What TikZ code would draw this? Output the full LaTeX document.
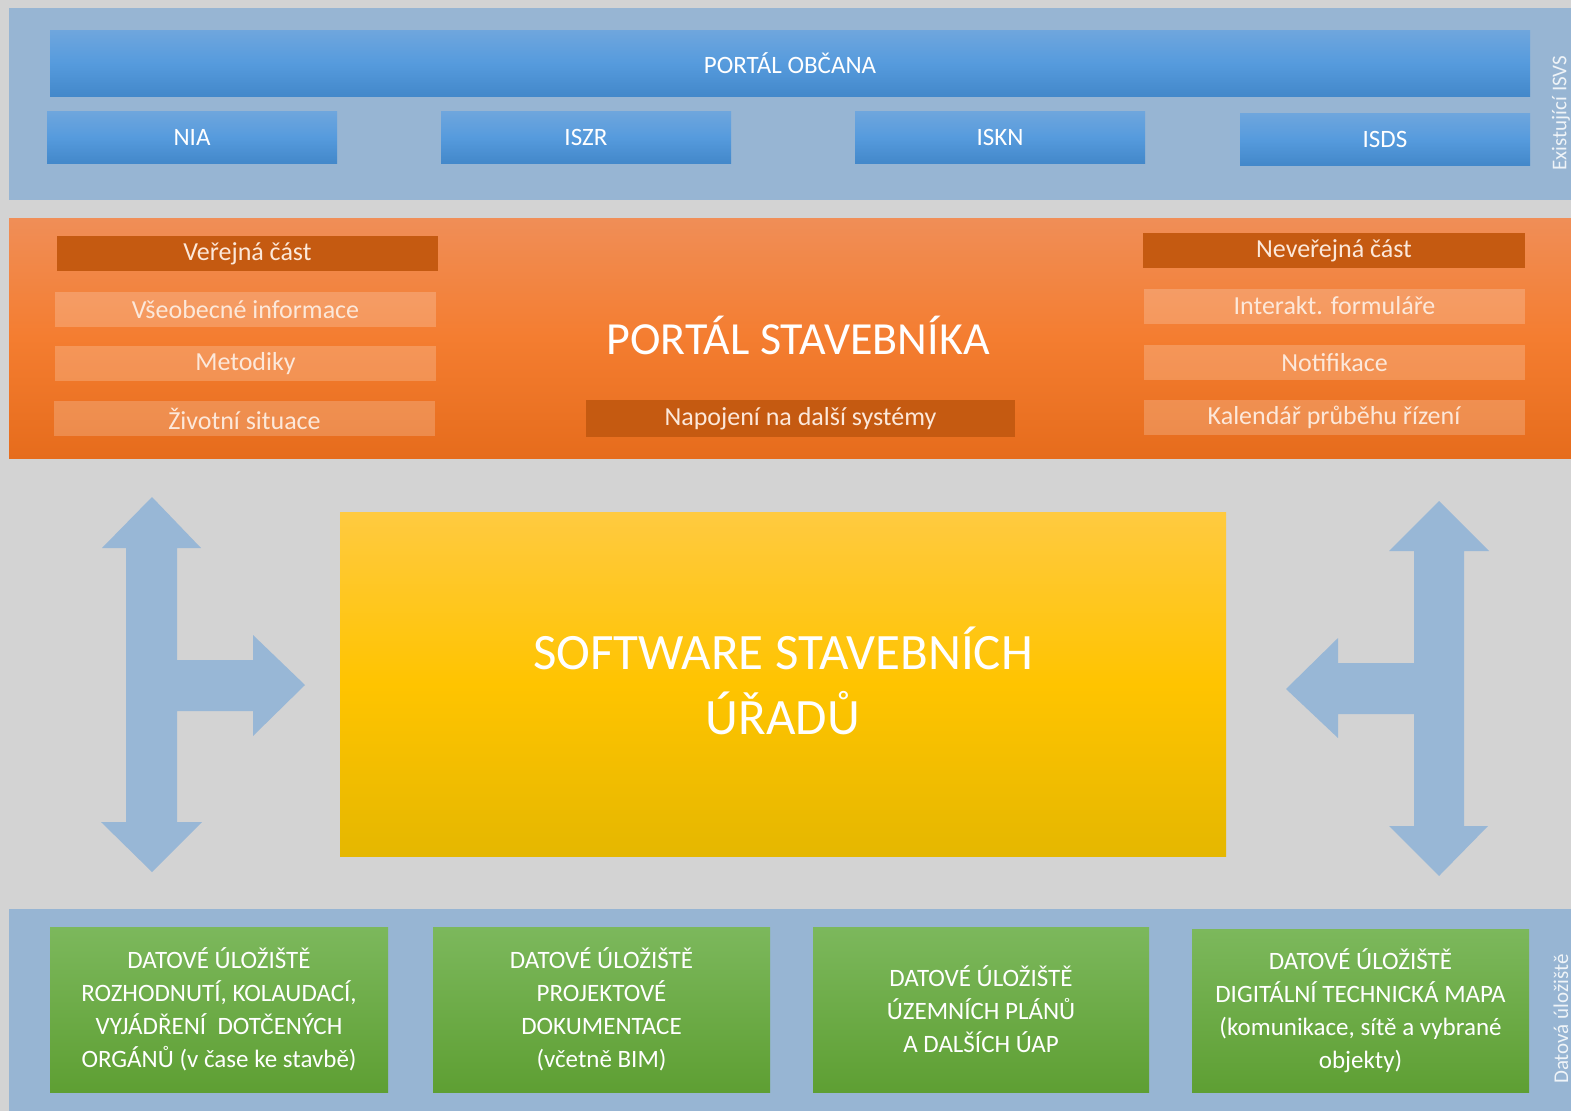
\documentclass[tikz,border=0pt]{standalone}
\usepackage{fontspec}
\setmainfont{Carlito}
\definecolor{bgray}{HTML}{D3D3D3}
\definecolor{panelblue}{HTML}{97B5D3}
\definecolor{arrowblue}{HTML}{98B7D6}
\definecolor{blueT}{HTML}{6FA6DD}
\definecolor{blueM}{HTML}{569BDD}
\definecolor{blueB}{HTML}{4388CA}
\definecolor{orT}{HTML}{F08E57}
\definecolor{orM}{HTML}{F47D30}
\definecolor{orB}{HTML}{E66C1C}
\definecolor{dkor}{HTML}{C55A11}
\definecolor{ortext}{HTML}{FCE8DA}
\definecolor{yeT}{HTML}{FFCA40}
\definecolor{yeM}{HTML}{FFC400}
\definecolor{yeB}{HTML}{E5B700}
\definecolor{grT}{HTML}{7CB85C}
\definecolor{grB}{HTML}{5E9F33}
\tikzset{
  px/.style={x=1pt,y=-1pt},
  panel/.style={fill=panelblue,draw=none,inner sep=0pt,anchor=north west},
  bluebox/.style={top color=blueT,bottom color=blueB,middle color=blueM,draw=none,inner sep=0pt,
    text=white,font=\fontsize{25}{30}\selectfont},
  darkbox/.style={fill=dkor,draw=none,inner sep=0pt,text=ortext,font=\fontsize{26}{30}\selectfont,
    minimum height=35pt},
  lightbox/.style={fill=white,fill opacity=0.2,text opacity=1,draw=none,inner sep=0pt,text=ortext,
    font=\fontsize{26}{30}\selectfont,minimum width=381pt,minimum height=35pt},
  greenbox/.style={top color=grT,bottom color=grB,draw=none,inner sep=0pt,text=white,
    font=\fontsize{25}{33}\selectfont,align=center,minimum width=337pt,minimum height=165pt},
  sidelabel/.style={rotate=90,text=white!85!panelblue,font=\fontsize{21}{24}\selectfont,inner sep=0pt},
  bigarrow/.style={fill=arrowblue,draw=none},
}
\begin{document}
\begin{tikzpicture}[px]
\useasboundingbox (0,0) rectangle (1571,1111);
\fill[bgray] (0,0) rectangle (1571,1111);
% top panel
\node[panel,minimum width=1562pt,minimum height=192pt] (toppanel) at (9,8) {};
\node[bluebox,minimum width=1480pt,minimum height=66pt] (obcana) at (790,63) {PORTÁL OBČANA};
\node[bluebox,minimum width=290pt,minimum height=52pt] (nia) at (192,137) {NIA};
\node[bluebox,minimum width=290pt,minimum height=52pt] (iszr) at (586,137) {ISZR};
\node[bluebox,minimum width=290pt,minimum height=52pt] (iskn) at (1000,137) {ISKN};
\node[bluebox,minimum width=290pt,minimum height=52pt] (isds) at (1385,139) {ISDS};
\node[sidelabel] (isvs) at (1561,113) {Existující ISVS};
% orange panel
\node[top color=orT,bottom color=orB,middle color=orM,draw=none,inner sep=0pt,anchor=north west,
  minimum width=1562pt,minimum height=240pt] (orpanel) at (9,218) {};
\node[darkbox,minimum width=381pt] (verejna) at (247.5,253.5) {Veřejná část};
\node[lightbox] (vseob) at (245.5,309.5) {Všeobecné informace};
\node[lightbox] (metod) at (245.5,363.5) {Metodiky};
\node[lightbox] (zivot) at (244.5,418.5) {Životní situace};
\node[darkbox,minimum width=382pt] (neverejna) at (1334,250.5) {Neveřejná část};
\node[lightbox] (interakt) at (1334.5,306) {Interakt. formuláře};
\node[lightbox] (notif) at (1334.5,362.5) {Notifikace};
\node[lightbox] (kalend) at (1334,417.5) {Kalendář průběhu řízení};
\node[text=white,font=\fontsize{46}{52}\selectfont,inner sep=0pt] (stavebnik) at (798,335) {PORTÁL STAVEBNÍKA};
\node[darkbox,minimum width=429pt,minimum height=37pt] (napojeni) at (800.5,418.5) {Napojení na další systémy};
% yellow box
\node[top color=yeT,bottom color=yeB,middle color=yeM,draw=none,inner sep=0pt,
  minimum width=886pt,minimum height=344pt,draw=none,anchor=center] (software) at (783,684) {};
\node[text=white,align=center,inner sep=0pt,
  font=\fontsize{51}{65}\selectfont] (softwaretext) at (783,681) {SOFTWARE STAVEBNÍCH\\ÚŘADŮ};
% arrows
\fill[bigarrow] (152,497) -- (201,548) -- (177,548) -- (177,660) -- (253,660) -- (253,635)
  -- (305,685) -- (253,736) -- (253,711) -- (177,711) -- (177,822) -- (202,822) -- (152,872)
  -- (101,822) -- (126,822) -- (126,548) -- (102,548) -- cycle;
\fill[bigarrow] (1439,501) -- (1489,551) -- (1464,551) -- (1464,826) -- (1488,826) -- (1439,876)
  -- (1389,826) -- (1414,826) -- (1414,714) -- (1338,714) -- (1338,738) -- (1286,689)
  -- (1338,638) -- (1338,663) -- (1414,663) -- (1414,551) -- (1389,551) -- cycle;
% bottom panel
\node[panel,minimum width=1562pt,minimum height=202pt] (botpanel) at (9,909) {};
\node[greenbox,minimum width=338pt] (g1) at (219,1009.5) {DATOVÉ ÚLOŽIŠTĚ\\ROZHODNUTÍ, KOLAUDACÍ,\\VYJÁDŘENÍ\ \ DOTČENÝCH\\ORGÁNŮ (v čase ke stavbě)};
\node[greenbox] (g2) at (601.5,1009.5) {DATOVÉ ÚLOŽIŠTĚ\\PROJEKTOVÉ\\DOKUMENTACE\\(včetně BIM)};
\node[greenbox,minimum width=336pt] (g3) at (981,1009.5) {DATOVÉ ÚLOŽIŠTĚ\\ÚZEMNÍCH PLÁNŮ\\A DALŠÍCH ÚAP};
\node[greenbox,minimum height=163pt] (g4) at (1360.5,1010.5) {DATOVÉ ÚLOŽIŠTĚ\\DIGITÁLNÍ TECHNICKÁ MAPA\\(komunikace, sítě a vybrané\\objekty)};
\node[sidelabel] (datova) at (1561,1019) {Datová úložiště};
\end{tikzpicture}
\end{document}
